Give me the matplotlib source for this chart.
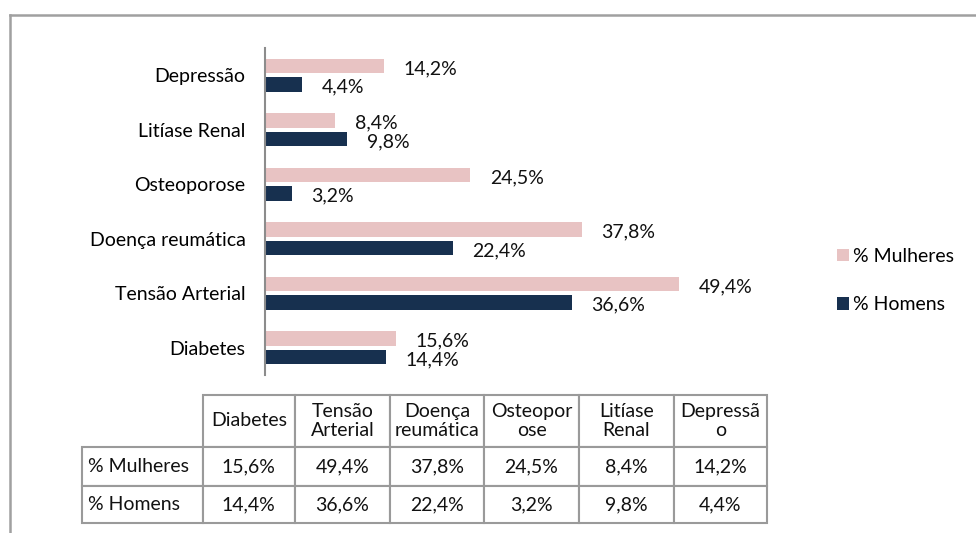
import matplotlib
matplotlib.use("Agg")
import matplotlib.pyplot as plt
from matplotlib.lines import Line2D

# dados (de baixo para cima no gráfico)
categorias = ["Diabetes", "Tensão Arterial", "Doença reumática",
              "Osteoporose", "Litíase Renal", "Depressão"]
mulheres = [15.6, 49.4, 37.8, 24.5, 8.4, 14.2]
homens = [14.4, 36.6, 22.4, 3.2, 9.8, 4.4]
cabecalho_tabela = ["Diabetes", "Tensão\nArterial", "Doença\nreumática",
                    "Osteopor\nose", "Litíase\nRenal", "Depressã\no"]
series = ["% Mulheres", "% Homens"]

cor_mulheres = "#E8C3C3"
cor_homens = "#17304F"

plt.rcParams["font.family"] = ["Lato", "DejaVu Sans"]
plt.rcParams["font.size"] = 14

W, H = 976, 533
fig = plt.figure(figsize=(W / 100, H / 100), dpi=100)


def px(x0, y0, x1, y1):
    # converte caixa em pixeis (topo-esquerda) para coordenadas da figura
    return [x0 / W, 1 - y1 / H, (x1 - x0) / W, (y1 - y0) / H]


def fmt(v):
    return f"{v:.1f}%".replace(".", ",")


# moldura cinzenta
fig.add_artist(Line2D([9.5 / W, 9.5 / W], [0, 1 - 15 / H], transform=fig.transFigure,
                      color="#A0A0A0", lw=1.8))
fig.add_artist(Line2D([9.5 / W, 1], [1 - 15 / H, 1 - 15 / H], transform=fig.transFigure,
                      color="#A0A0A0", lw=1.8))

ax = fig.add_axes(px(265, 48, 768, 375))
pos = list(range(len(categorias)))
altura = 0.26
b1 = ax.barh([p + 0.17 for p in pos], mulheres, height=altura, color=cor_mulheres,
             label=series[0])
b2 = ax.barh([p - 0.17 for p in pos], homens, height=altura, color=cor_homens,
             label=series[1])

for barras, valores in ((b1, mulheres), (b2, homens)):
    for barra, v in zip(barras, valores):
        ax.annotate(fmt(v), (v, barra.get_y() + barra.get_height() / 2),
                    xytext=(14, -2), textcoords="offset points",
                    ha="left", va="center", color="#111111")

ax.set_xlim(0, 60)
ax.set_ylim(-0.5, len(categorias) - 0.5)
ax.set_yticks(pos)
ax.set_yticklabels(categorias)
ax.tick_params(axis="y", length=0, pad=14)
ax.set_xticks([])
for lado in ("top", "right", "bottom"):
    ax.spines[lado].set_visible(False)
ax.spines["left"].set_color("#8C8C8C")
ax.spines["left"].set_linewidth(1.5)

fig.legend(handles=[b1, b2], labels=series, loc="center left",
           bbox_to_anchor=(837 / W, 1 - 280.5 / H), frameon=False,
           handlelength=0.62, handleheight=0.62, handletextpad=0.2,
           labelspacing=1.6, borderpad=0, borderaxespad=0)

# tabela de dados: primeira coluna com os nomes das séries
axt = fig.add_axes(px(82, 395, 767, 523))
axt.axis("off")
linhas = [[series[0]] + [fmt(v) for v in mulheres],
          [series[1]] + [fmt(v) for v in homens]]
larguras = [120.5, 92.5, 95, 94, 95, 95, 93]
tab = axt.table(cellText=linhas, colLabels=[""] + cabecalho_tabela,
                colWidths=larguras, cellLoc="center", bbox=[0, 0, 1, 1])
tab.auto_set_font_size(False)
tab.set_fontsize(14)
alturas = {0: 52, 1: 39, 2: 37}
for (r, c), cel in tab.get_celld().items():
    cel.set_height(alturas[r])
    cel.set_edgecolor("#9A9A9A")
    cel.set_linewidth(1.5)
    cel.get_text().set_color("#111111")
    if c == 0:
        cel.PAD = 0.05
        cel.set_text_props(ha="left")
        if r == 0:
            cel.visible_edges = ""

fig.savefig("out.png", dpi=100)
